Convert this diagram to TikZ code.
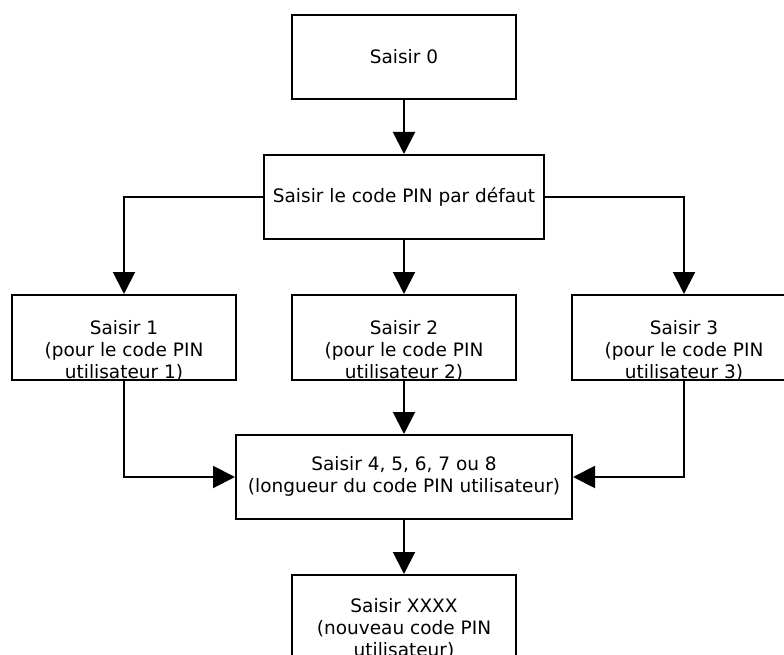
\documentclass[tikz,border=0pt]{standalone}
\usepackage{fontspec}
\setmainfont{DejaVu Sans}
\usetikzlibrary{arrows.meta}
\begin{document}
\begin{tikzpicture}[x=1pt,y=-1pt,
  box/.style={draw, line width=2pt, minimum width=224pt, minimum height=84pt, inner sep=0pt},
  txt/.style={font=\fontsize{18.5}{22}\selectfont, align=center, inner sep=0pt, anchor=north},
  arr/.style={line width=2pt, -{Triangle[length=22pt,width=22pt]}}]
\useasboundingbox (0,0) rectangle (784,655);
\clip (0,0) rectangle (784,655);
% boxes
\node[box] (b0) at (404,57) {};
\node[box, minimum width=280pt] (b1) at (404,197) {};
\node[box, minimum height=85pt] (s1) at (124,337.5) {};
\node[box, minimum height=85pt] (s2) at (404,337.5) {};
\node[box, minimum height=85pt] (s3) at (684,337.5) {};
\node[box, minimum width=336pt] (b4) at (404,477) {};
\node[box] (b5) at (404,617) {};
% texts
\node[txt] (t0) at (404,49) {Saisir 0};
\node[txt] (t1) at (404,188) {Saisir le code PIN par défaut};
\node[txt] (ts1) at (124,320) {Saisir 1\\(pour le code PIN\\utilisateur 1)};
\node[txt] (ts2) at (404,320) {Saisir 2\\(pour le code PIN\\utilisateur 2)};
\node[txt] (ts3) at (684,320) {Saisir 3\\(pour le code PIN\\utilisateur 3)};
\node[txt] (t4) at (404,456) {Saisir 4, 5, 6, 7 ou 8\\(longueur du code PIN utilisateur)};
\node[txt] (t5) at (404,598) {Saisir XXXX\\(nouveau code PIN\\utilisateur)};
% connectors
\draw[arr] (b0) -- (b1);
\draw[arr] (b1.west) -| (s1.north);
\draw[arr] (b1) -- (s2);
\draw[arr] (b1.east) -| (s3.north);
\draw[arr] (s1.south) |- (b4.west);
\draw[arr] (s2) -- (b4);
\draw[arr] (s3.south) |- (b4.east);
\draw[arr] (b4) -- (b5);
\end{tikzpicture}
\end{document}
